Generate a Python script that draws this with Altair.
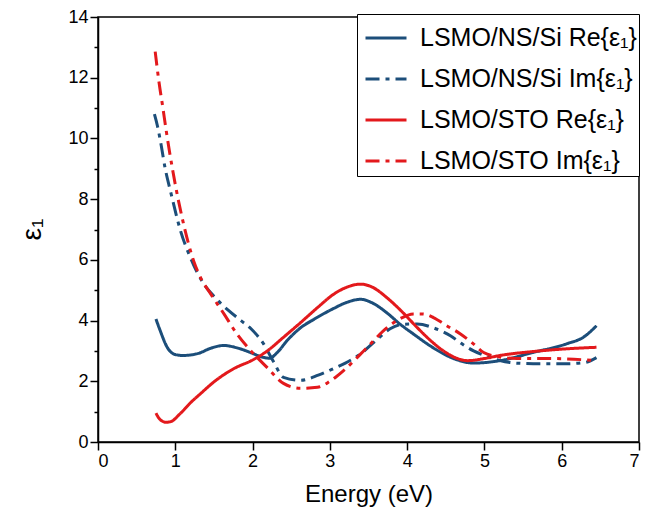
import altair as alt
import pandas as pd

series_names = [
    "LSMO/NS/Si Re{ε₁}",
    "LSMO/NS/Si Im{ε₁}",
    "LSMO/STO Re{ε₁}",
    "LSMO/STO Im{ε₁}",
]

ns_re_e = [0.75, 0.8, 0.9, 1.0, 1.1, 1.3, 1.45, 1.63, 1.8, 2.0, 2.12, 2.22, 2.32, 2.45, 2.62, 2.8, 3.05, 3.2, 3.4, 3.55, 3.74, 3.9, 4.08, 4.34, 4.6, 4.86, 5.2, 5.63, 6.07, 6.28, 6.45]
ns_re_v = [4.05, 3.7, 3.1, 2.88, 2.85, 2.92, 3.08, 3.18, 3.1, 2.92, 2.8, 2.76, 2.95, 3.35, 3.76, 4.05, 4.4, 4.58, 4.7, 4.58, 4.25, 3.9, 3.56, 3.1, 2.75, 2.6, 2.68, 2.95, 3.24, 3.45, 3.83]

ns_im_e = [0.73, 0.77, 0.81, 0.87, 0.94, 1.07, 1.2, 1.37, 1.5, 1.68, 1.85, 1.98, 2.14, 2.27, 2.4, 2.62, 2.85, 3.05, 3.2, 3.4, 3.6, 3.78, 3.95, 4.13, 4.35, 4.56, 4.7, 4.86, 5.0, 5.2, 5.4, 5.63, 6.07, 6.3, 6.45]
ns_im_v = [10.8, 10.4, 9.88, 9.0, 8.24, 6.94, 6.05, 5.2, 4.8, 4.35, 4.0, 3.73, 3.24, 2.65, 2.13, 2.03, 2.2, 2.42, 2.6, 2.91, 3.35, 3.73, 3.88, 3.89, 3.75, 3.5, 3.25, 3.0, 2.85, 2.68, 2.6, 2.58, 2.58, 2.62, 2.78]

sto_re_e = [0.75, 0.8, 0.88, 0.95, 1.05, 1.2, 1.33, 1.5, 1.76, 2.0, 2.19, 2.4, 2.62, 2.85, 3.05, 3.2, 3.4, 3.55, 3.74, 3.95, 4.13, 4.3, 4.47, 4.65, 4.78, 5.0, 5.2, 5.63, 6.07, 6.45]
sto_re_v = [0.95, 0.75, 0.65, 0.68, 0.9, 1.3, 1.6, 1.98, 2.42, 2.7, 3.0, 3.45, 3.93, 4.45, 4.87, 5.08, 5.2, 5.1, 4.75, 4.25, 3.77, 3.35, 3.0, 2.75, 2.68, 2.75, 2.85, 2.98, 3.07, 3.12]

sto_im_e = [0.74, 0.79, 0.84, 0.88, 0.97, 1.1, 1.24, 1.33, 1.46, 1.63, 1.8, 1.98, 2.19, 2.4, 2.62, 2.84, 3.0, 3.18, 3.48, 3.74, 3.9, 4.08, 4.2, 4.34, 4.5, 4.69, 4.85, 4.99, 5.2, 5.42, 5.85, 6.45]
sto_im_v = [12.86, 11.84, 11.0, 10.3, 8.9, 7.26, 5.95, 5.4, 4.87, 4.22, 3.55, 3.0, 2.45, 1.93, 1.77, 1.8, 2.0, 2.36, 3.11, 3.77, 4.05, 4.22, 4.22, 4.1, 3.85, 3.56, 3.25, 2.95, 2.8, 2.75, 2.75, 2.68]

colors = ["#1c4e7a", "#1c4e7a", "#e3191c", "#e3191c"]
dashes = [[1, 0], [14, 6, 4, 6], [1, 0], [14, 6, 4, 6]]

rows = []
for name, es, vs in zip(series_names,
                        [ns_re_e, ns_im_e, sto_re_e, sto_im_e],
                        [ns_re_v, ns_im_v, sto_re_v, sto_im_v]):
    for i, (e, v) in enumerate(zip(es, vs)):
        rows.append({"series": name, "energy": e, "eps": v, "order": i})
df = pd.DataFrame(rows)

font = "Liberation Sans"

chart = alt.Chart(df).mark_line(strokeWidth=3, interpolate="monotone").encode(
    x=alt.X("energy:Q", title="Energy (eV)",
            scale=alt.Scale(domain=[0, 7], nice=False),
            axis=alt.Axis(values=[i * 0.5 for i in range(15)], format="d",
                          labelExpr="datum.value % 1 === 0 ? datum.label : ''",
                          tickSize={"condition": {"test": "datum.value % 1 === 0", "value": 8}, "value": 4},
                          titleY=52, titleBaseline="middle", titleFontSize=24,
                          grid=False)),
    y=alt.Y("eps:Q", title="ε₁",
            scale=alt.Scale(domain=[0, 14], nice=False),
            axis=alt.Axis(values=list(range(15)), format="d",
                          labelExpr="datum.value % 2 === 0 ? datum.label : ''",
                          tickSize={"condition": {"test": "datum.value % 2 === 0", "value": 8}, "value": 4},
                          titleX=-66, titleY=212, titleAngle=270, titleAlign="center",
                          titleBaseline="middle", titleFontSize=28,
                          grid=False)),
    color=alt.Color("series:N", sort=series_names,
                    scale=alt.Scale(domain=series_names, range=colors),
                    legend=alt.Legend(title=None)),
    strokeDash=alt.StrokeDash("series:N", sort=series_names,
                              scale=alt.Scale(domain=series_names, range=dashes),
                              legend=alt.Legend(title=None)),
    order="order:Q",
).properties(
    width=541, height=425,
    autosize=alt.AutoSizeParams(type="none"),
    padding={"left": 90, "top": 9, "right": 10, "bottom": 70},
).configure_view(
    stroke="black", strokeWidth=1.5
).configure_axis(
    domainColor="black", domainWidth=1.5, tickColor="black", tickWidth=1.5,
    labelFont=font, labelFontSize=18, labelColor="black", labelPadding=2,
    titleFont=font, titleFontWeight="normal", titleColor="black",
).configure_legend(
    orient="none", legendX=259, legendY=-3, strokeColor="black", fillColor="white",
    padding=2, labelFont=font, labelFontSize=25, labelColor="black",
    symbolType="stroke", symbolStrokeWidth=3, symbolSize=1681, rowPadding=6,
    symbolOffset=5, labelLimit=400, labelOffset=12, cornerRadius=0,
)

chart.save("out.html", embed_options={"renderer": "svg", "actions": False})
